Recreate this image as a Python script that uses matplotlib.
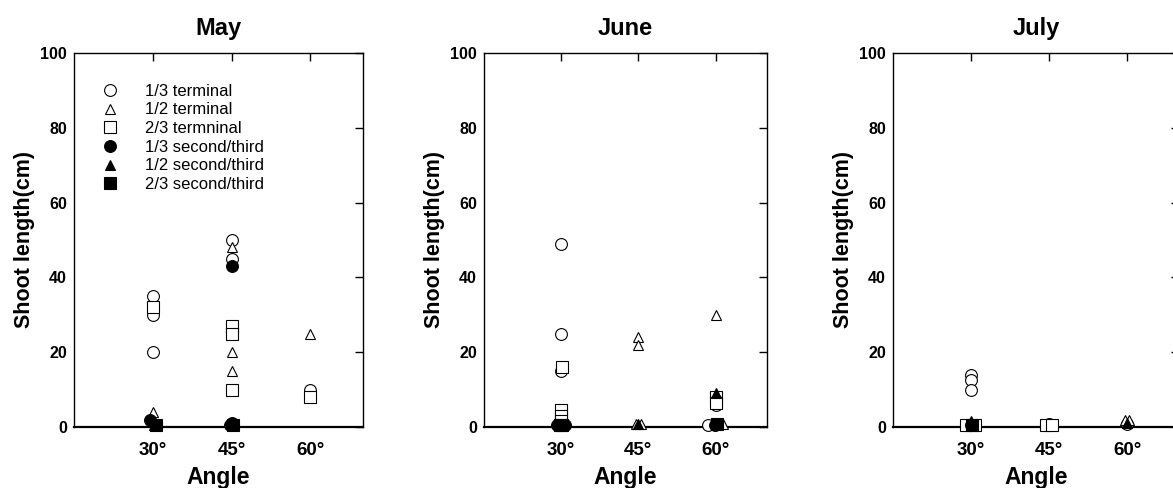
import matplotlib
matplotlib.use('Agg')
import matplotlib.pyplot as plt

plt.rcParams['font.family'] = ['Liberation Sans', 'DejaVu Sans']

months = ['May', 'June', 'July']
angle_ticks = [30, 45, 60]
angle_labels = ['30°', '45°', '60°']
y_ticks = [0, 20, 40, 60, 80, 100]
series_labels = ['1/3 terminal', '1/2 terminal', '2/3 termninal',
                 '1/3 second/third', '1/2 second/third', '2/3 second/third']

# (angle, shoot length in cm)
may_13_terminal = [(30, 35), (30, 30), (30, 20), (45, 50), (45, 45), (60, 10)]
may_12_terminal = [(30, 4), (45, 48), (45, 20), (45, 15), (60, 25)]
may_23_terminal = [(30, 32), (45, 27), (45, 25), (45, 10), (60, 8)]
may_13_second = [(29.4, 2), (45, 43), (45, 1), (44.6, 0.5)]
may_12_second = [(30.2, 0.5), (45, 1)]
may_23_second = [(30.6, 0.5), (45.3, 0.5)]

june_13_terminal = [(30, 49), (30, 25), (30, 15), (60, 6), (58.5, 0.5)]
june_12_terminal = [(45, 24), (45, 22), (44.5, 0.8), (45.6, 0.8), (60, 30), (61.4, 0.8)]
june_23_terminal = [(30.2, 16), (30, 4.5), (30, 3), (30, 1.5), (60, 8), (60, 6.5)]
june_13_second = [(29.2, 0.5), (30.8, 0.5), (59.8, 0.5)]
june_12_second = [(30.4, 0.8), (45, 0.8), (60, 9)]
june_23_second = [(29.7, 0.5), (30.2, 0.5), (60.2, 0.8)]

july_13_terminal = [(30, 14), (30, 12.5), (30, 10), (45, 0.8), (60, 0.8)]
july_12_terminal = [(59.6, 2), (60.4, 2)]
july_23_terminal = [(29, 0.5), (30.8, 0.5), (44.5, 0.5), (45.5, 0.5)]
july_13_second = [(30, 0.5)]
july_12_second = [(30, 1.5), (60, 1)]
july_23_second = [(30.2, 0.5)]

month_data = [
    [may_13_terminal, may_12_terminal, may_23_terminal, may_13_second, may_12_second, may_23_second],
    [june_13_terminal, june_12_terminal, june_23_terminal, june_13_second, june_12_second, june_23_second],
    [july_13_terminal, july_12_terminal, july_23_terminal, july_13_second, july_12_second, july_23_second],
]

styles = [
    dict(marker='o', mfc='white', ms=8.5),
    dict(marker='^', mfc='white', ms=7.5),
    dict(marker='s', mfc='white', ms=8),
    dict(marker='o', mfc='black', ms=8.5),
    dict(marker='^', mfc='black', ms=7.5),
    dict(marker='s', mfc='black', ms=8),
]

fig = plt.figure(figsize=(11.73, 4.88), dpi=100)
positions = [
    [74 / 1173, 61 / 488, 289 / 1173, 374 / 488],
    [484 / 1173, 61 / 488, 283 / 1173, 374 / 488],
    [893 / 1173, 61 / 488, 286 / 1173, 374 / 488],
]

axes = []
for i, month in enumerate(months):
    ax = fig.add_axes(positions[i])
    axes.append(ax)
    for series, st, lab in zip(month_data[i], styles, series_labels):
        xs = [p[0] for p in series]
        ys = [p[1] for p in series]
        ax.plot(xs, ys, linestyle='none', marker=st['marker'], ms=st['ms'],
                mfc=st['mfc'], mec='black', mew=0.8, clip_on=False,
                label=lab, zorder=3)
    ax.set_xlim(15, 70)
    ax.set_ylim(0, 100)
    ax.set_xticks(angle_ticks)
    ax.set_xticklabels(angle_labels, fontsize=13.5, fontweight='bold')
    ax.set_yticks(y_ticks)
    ax.set_yticklabels([str(v) for v in y_ticks], fontsize=11.5, fontweight='bold')
    ax.tick_params(axis='x', direction='in', bottom=False, top=True, length=6,
                   width=1, pad=11, labelbottom=True)
    ax.tick_params(axis='y', direction='in', left=False, right=True, length=6,
                   width=1, pad=5, labelleft=True)
    for s in ax.spines.values():
        s.set_linewidth(1.0)
    ax.spines['bottom'].set_linewidth(1.6)
    ax.set_title(month, fontsize=17, fontweight='bold', pad=13)
    ax.set_xlabel('Angle', fontsize=16.5, fontweight='bold', labelpad=5)
    ax.set_ylabel('Shoot length(cm)', fontsize=15.5, fontweight='bold', labelpad=4)

axes[0].legend(loc='upper left', bbox_to_anchor=(0.09, 0.918), frameon=False,
               fontsize=12, handlelength=1.2, handletextpad=1.5,
               labelspacing=0.22, borderpad=0, borderaxespad=0)

fig.savefig('out.png', dpi=100)
